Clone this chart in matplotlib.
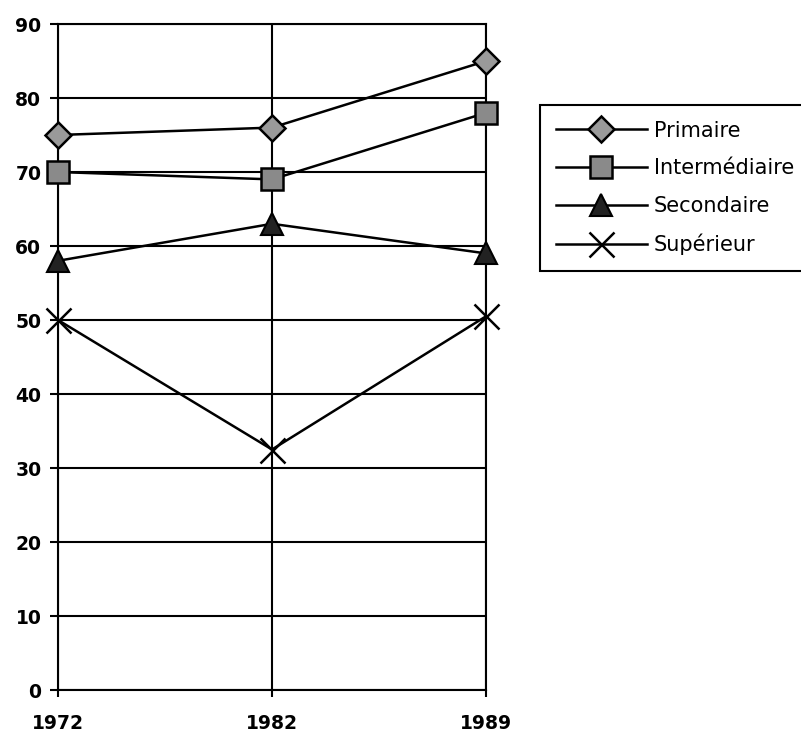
import matplotlib
matplotlib.use('Agg')
import matplotlib.pyplot as plt

annees = ['1972', '1982', '1989']
primaire = [75, 76, 85]
intermediaire = [70, 69, 78]
secondaire = [58, 63, 59]
superieur = [50, 32.5, 50.5]

plt.rcParams['font.family'] = ['DejaVu Sans']

fig = plt.figure(figsize=(8.01, 7.38), dpi=100)
ax = fig.add_axes([58 / 801, 1 - 690 / 738, (486 - 58) / 801, (690 - 24) / 738])

x = range(len(annees))
kw = dict(color='black', lw=1.8, clip_on=False, zorder=3)
ax.plot(x, primaire, '-D', ms=13, mfc='#9a9a9a', mec='black', mew=1.8, label='Primaire', **kw)
ax.plot(x, intermediaire, '-s', ms=16, mfc='#8a8a8a', mec='black', mew=1.8, label='Intermédiaire', **kw)
ax.plot(x, secondaire, '-^', ms=16, mfc='#222222', mec='black', mew=1.5, label='Secondaire', **kw)
ax.plot(x, superieur, '-x', ms=18, mew=1.8, label='Supérieur', **kw)

ax.set_xlim(0, 2)
ax.set_ylim(0, 90)
ax.set_yticks(range(0, 91, 10))
ax.set_xticks(list(x))
ax.set_xticklabels(annees)
ax.grid(True, color='black', lw=1.5)
for s in ax.spines.values():
    s.set_linewidth(1.5)
ax.tick_params(axis='y', length=6, width=1.5, labelsize=13.5, pad=6)
ax.tick_params(axis='x', length=5, width=1.5, labelsize=13.5, pad=12)
for lab in ax.get_xticklabels() + ax.get_yticklabels():
    lab.set_fontweight('bold')
ax.set_axisbelow(True)

leg = fig.legend(loc='upper left', bbox_to_anchor=(540 / 801, 1 - 105 / 738),
                 fontsize=15, handlelength=4.4, handletextpad=0.3,
                 labelspacing=0.85, borderpad=0.75, borderaxespad=0,
                 fancybox=False, edgecolor='black', framealpha=1)
leg.get_frame().set_linewidth(1.5)

fig.savefig('out.png', dpi=100)
